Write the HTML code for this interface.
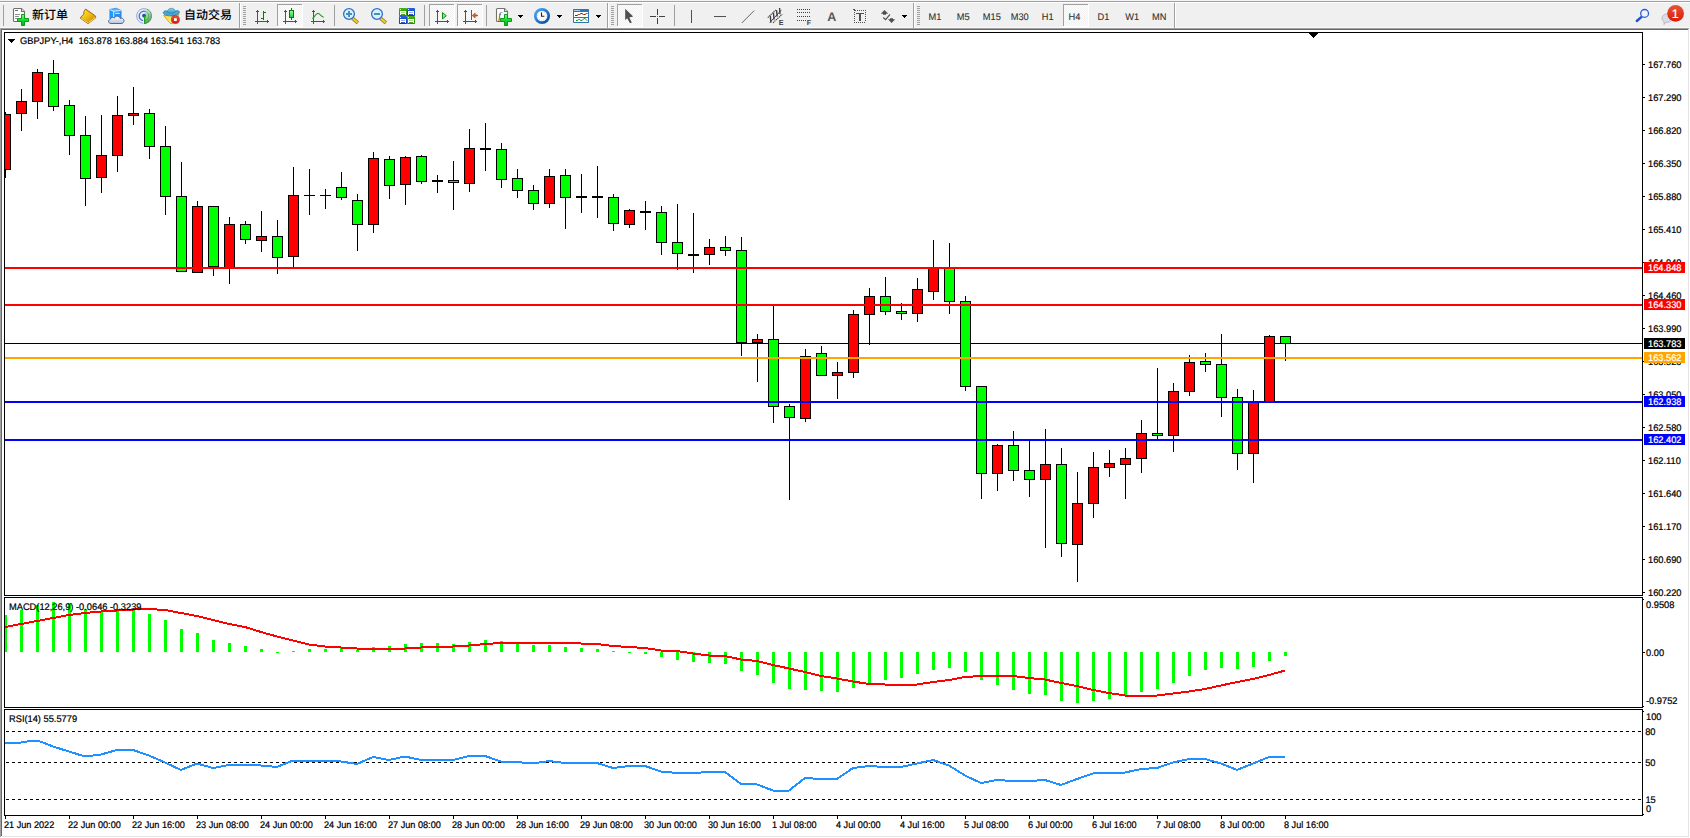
<!DOCTYPE html>
<html><head><meta charset="utf-8"><title>GBPJPY H4</title>
<style>html,body{margin:0;padding:0;background:#fff}body{width:1690px;height:838px;overflow:hidden;position:relative}text{white-space:pre;text-rendering:geometricPrecision}</style>
</head><body>
<svg width="1690" height="838" viewBox="0 0 1690 838" style="position:absolute;left:0;top:0" font-family="'Liberation Sans','Noto Sans CJK SC',sans-serif">
<rect x="0" y="0" width="1690" height="838" fill="#fff"/>
<g shape-rendering="crispEdges">
<rect x="0" y="0" width="1690" height="28" fill="#f0f0f0"/>
<rect x="0" y="0" width="1690" height="1" fill="#f4f4f4"/>
<rect x="0" y="1" width="1690" height="1" fill="#a0a0a0"/>
<rect x="0" y="2" width="1690" height="1" fill="#ffffff"/>
<rect x="0" y="27" width="1690" height="1" fill="#fafafa"/>
<rect x="0" y="28" width="1689" height="1" fill="#a0a0a0"/>
<rect x="1" y="29" width="1687" height="1" fill="#696969"/>
<rect x="0" y="28" width="1" height="809" fill="#a0a0a0"/>
<rect x="1" y="29" width="1" height="807" fill="#696969"/>
<rect x="1688" y="29" width="1" height="808" fill="#e3e3e3"/>
<rect x="2" y="836" width="1687" height="1" fill="#e3e3e3"/>
<rect x="4" y="32" width="1639" height="1" fill="#000"/>
<rect x="4" y="595" width="1639" height="1" fill="#000"/>
<rect x="4" y="32" width="1" height="564" fill="#000"/>
<rect x="1642" y="32" width="1" height="564" fill="#000"/>
<rect x="4" y="597" width="1639" height="1" fill="#000"/>
<rect x="4" y="707" width="1639" height="1" fill="#000"/>
<rect x="4" y="597" width="1" height="111" fill="#000"/>
<rect x="1642" y="597" width="1" height="111" fill="#000"/>
<rect x="4" y="709" width="1639" height="1" fill="#000"/>
<rect x="4" y="815" width="1639" height="1" fill="#000"/>
<rect x="4" y="709" width="1" height="107" fill="#000"/>
<rect x="1642" y="709" width="1" height="107" fill="#000"/>
</g>
<defs><clipPath id="c1"><rect x="5" y="33" width="1637" height="562"/></clipPath><clipPath id="c2"><rect x="5" y="598" width="1637" height="109"/></clipPath><clipPath id="c3"><rect x="5" y="710" width="1637" height="105"/></clipPath></defs>
<g shape-rendering="crispEdges" clip-path="url(#c1)">
<rect x="5" y="343" width="1637" height="1" fill="#000"/>
<rect x="5" y="112" width="1" height="66" fill="#000"/>
<rect x="0" y="114" width="11" height="56" fill="#000"/>
<rect x="1" y="115" width="9" height="54" fill="#f00"/>
<rect x="21" y="89" width="1" height="42" fill="#000"/>
<rect x="16" y="101" width="11" height="13" fill="#000"/>
<rect x="17" y="102" width="9" height="11" fill="#f00"/>
<rect x="37" y="69" width="1" height="50" fill="#000"/>
<rect x="32" y="72" width="11" height="30" fill="#000"/>
<rect x="33" y="73" width="9" height="28" fill="#f00"/>
<rect x="53" y="60" width="1" height="51" fill="#000"/>
<rect x="48" y="73" width="11" height="34" fill="#000"/>
<rect x="49" y="74" width="9" height="32" fill="#0f0"/>
<rect x="69" y="100" width="1" height="55" fill="#000"/>
<rect x="64" y="105" width="11" height="31" fill="#000"/>
<rect x="65" y="106" width="9" height="29" fill="#0f0"/>
<rect x="85" y="116" width="1" height="90" fill="#000"/>
<rect x="80" y="135" width="11" height="44" fill="#000"/>
<rect x="81" y="136" width="9" height="42" fill="#0f0"/>
<rect x="101" y="115" width="1" height="78" fill="#000"/>
<rect x="96" y="155" width="11" height="23" fill="#000"/>
<rect x="97" y="156" width="9" height="21" fill="#f00"/>
<rect x="117" y="96" width="1" height="76" fill="#000"/>
<rect x="112" y="115" width="11" height="41" fill="#000"/>
<rect x="113" y="116" width="9" height="39" fill="#f00"/>
<rect x="133" y="87" width="1" height="38" fill="#000"/>
<rect x="128" y="113" width="11" height="3" fill="#000"/>
<rect x="129" y="114" width="9" height="1" fill="#f00"/>
<rect x="149" y="109" width="1" height="50" fill="#000"/>
<rect x="144" y="113" width="11" height="34" fill="#000"/>
<rect x="145" y="114" width="9" height="32" fill="#0f0"/>
<rect x="165" y="126" width="1" height="89" fill="#000"/>
<rect x="160" y="146" width="11" height="51" fill="#000"/>
<rect x="161" y="147" width="9" height="49" fill="#0f0"/>
<rect x="181" y="162" width="1" height="110" fill="#000"/>
<rect x="176" y="196" width="11" height="76" fill="#000"/>
<rect x="177" y="197" width="9" height="74" fill="#0f0"/>
<rect x="197" y="201" width="1" height="72" fill="#000"/>
<rect x="192" y="206" width="11" height="67" fill="#000"/>
<rect x="193" y="207" width="9" height="65" fill="#f00"/>
<rect x="213" y="206" width="1" height="70" fill="#000"/>
<rect x="208" y="206" width="11" height="61" fill="#000"/>
<rect x="209" y="207" width="9" height="59" fill="#0f0"/>
<rect x="229" y="217" width="1" height="67" fill="#000"/>
<rect x="224" y="224" width="11" height="45" fill="#000"/>
<rect x="225" y="225" width="9" height="43" fill="#f00"/>
<rect x="245" y="221" width="1" height="23" fill="#000"/>
<rect x="240" y="224" width="11" height="16" fill="#000"/>
<rect x="241" y="225" width="9" height="14" fill="#0f0"/>
<rect x="261" y="211" width="1" height="41" fill="#000"/>
<rect x="256" y="236" width="11" height="5" fill="#000"/>
<rect x="257" y="237" width="9" height="3" fill="#f00"/>
<rect x="277" y="220" width="1" height="54" fill="#000"/>
<rect x="272" y="236" width="11" height="22" fill="#000"/>
<rect x="273" y="237" width="9" height="20" fill="#0f0"/>
<rect x="293" y="167" width="1" height="101" fill="#000"/>
<rect x="288" y="195" width="11" height="62" fill="#000"/>
<rect x="289" y="196" width="9" height="60" fill="#f00"/>
<rect x="309" y="169" width="1" height="46" fill="#000"/>
<rect x="304" y="195" width="11" height="1" fill="#000"/>
<rect x="325" y="189" width="1" height="20" fill="#000"/>
<rect x="320" y="195" width="11" height="1" fill="#000"/>
<rect x="341" y="172" width="1" height="28" fill="#000"/>
<rect x="336" y="187" width="11" height="11" fill="#000"/>
<rect x="337" y="188" width="9" height="9" fill="#0f0"/>
<rect x="357" y="194" width="1" height="57" fill="#000"/>
<rect x="352" y="200" width="11" height="25" fill="#000"/>
<rect x="353" y="201" width="9" height="23" fill="#0f0"/>
<rect x="373" y="152" width="1" height="81" fill="#000"/>
<rect x="368" y="158" width="11" height="67" fill="#000"/>
<rect x="369" y="159" width="9" height="65" fill="#f00"/>
<rect x="389" y="156" width="1" height="43" fill="#000"/>
<rect x="384" y="159" width="11" height="27" fill="#000"/>
<rect x="385" y="160" width="9" height="25" fill="#0f0"/>
<rect x="405" y="156" width="1" height="49" fill="#000"/>
<rect x="400" y="157" width="11" height="28" fill="#000"/>
<rect x="401" y="158" width="9" height="26" fill="#f00"/>
<rect x="421" y="155" width="1" height="29" fill="#000"/>
<rect x="416" y="156" width="11" height="26" fill="#000"/>
<rect x="417" y="157" width="9" height="24" fill="#0f0"/>
<rect x="437" y="175" width="1" height="18" fill="#000"/>
<rect x="432" y="180" width="11" height="2" fill="#000"/>
<rect x="453" y="161" width="1" height="49" fill="#000"/>
<rect x="448" y="180" width="11" height="3" fill="#000"/>
<rect x="449" y="181" width="9" height="1" fill="#0f0"/>
<rect x="469" y="129" width="1" height="63" fill="#000"/>
<rect x="464" y="148" width="11" height="36" fill="#000"/>
<rect x="465" y="149" width="9" height="34" fill="#f00"/>
<rect x="485" y="123" width="1" height="48" fill="#000"/>
<rect x="480" y="148" width="11" height="2" fill="#000"/>
<rect x="501" y="143" width="1" height="45" fill="#000"/>
<rect x="496" y="149" width="11" height="31" fill="#000"/>
<rect x="497" y="150" width="9" height="29" fill="#0f0"/>
<rect x="517" y="169" width="1" height="29" fill="#000"/>
<rect x="512" y="178" width="11" height="13" fill="#000"/>
<rect x="513" y="179" width="9" height="11" fill="#0f0"/>
<rect x="533" y="185" width="1" height="25" fill="#000"/>
<rect x="528" y="190" width="11" height="14" fill="#000"/>
<rect x="529" y="191" width="9" height="12" fill="#0f0"/>
<rect x="549" y="169" width="1" height="39" fill="#000"/>
<rect x="544" y="176" width="11" height="28" fill="#000"/>
<rect x="545" y="177" width="9" height="26" fill="#f00"/>
<rect x="565" y="169" width="1" height="60" fill="#000"/>
<rect x="560" y="175" width="11" height="23" fill="#000"/>
<rect x="561" y="176" width="9" height="21" fill="#0f0"/>
<rect x="581" y="174" width="1" height="39" fill="#000"/>
<rect x="576" y="196" width="11" height="2" fill="#000"/>
<rect x="597" y="166" width="1" height="52" fill="#000"/>
<rect x="592" y="196" width="11" height="2" fill="#000"/>
<rect x="613" y="194" width="1" height="37" fill="#000"/>
<rect x="608" y="197" width="11" height="27" fill="#000"/>
<rect x="609" y="198" width="9" height="25" fill="#0f0"/>
<rect x="629" y="209" width="1" height="19" fill="#000"/>
<rect x="624" y="210" width="11" height="15" fill="#000"/>
<rect x="625" y="211" width="9" height="13" fill="#f00"/>
<rect x="645" y="201" width="1" height="29" fill="#000"/>
<rect x="640" y="211" width="11" height="2" fill="#000"/>
<rect x="661" y="206" width="1" height="49" fill="#000"/>
<rect x="656" y="212" width="11" height="31" fill="#000"/>
<rect x="657" y="213" width="9" height="29" fill="#0f0"/>
<rect x="677" y="204" width="1" height="66" fill="#000"/>
<rect x="672" y="242" width="11" height="12" fill="#000"/>
<rect x="673" y="243" width="9" height="10" fill="#0f0"/>
<rect x="693" y="213" width="1" height="60" fill="#000"/>
<rect x="688" y="254" width="11" height="2" fill="#000"/>
<rect x="709" y="239" width="1" height="26" fill="#000"/>
<rect x="704" y="247" width="11" height="8" fill="#000"/>
<rect x="705" y="248" width="9" height="6" fill="#f00"/>
<rect x="725" y="236" width="1" height="20" fill="#000"/>
<rect x="720" y="247" width="11" height="4" fill="#000"/>
<rect x="721" y="248" width="9" height="2" fill="#0f0"/>
<rect x="741" y="237" width="1" height="119" fill="#000"/>
<rect x="736" y="250" width="11" height="93" fill="#000"/>
<rect x="737" y="251" width="9" height="91" fill="#0f0"/>
<rect x="757" y="334" width="1" height="48" fill="#000"/>
<rect x="752" y="339" width="11" height="4" fill="#000"/>
<rect x="753" y="340" width="9" height="2" fill="#f00"/>
<rect x="773" y="306" width="1" height="117" fill="#000"/>
<rect x="768" y="339" width="11" height="68" fill="#000"/>
<rect x="769" y="340" width="9" height="66" fill="#0f0"/>
<rect x="789" y="404" width="1" height="96" fill="#000"/>
<rect x="784" y="406" width="11" height="12" fill="#000"/>
<rect x="785" y="407" width="9" height="10" fill="#0f0"/>
<rect x="805" y="349" width="1" height="73" fill="#000"/>
<rect x="800" y="356" width="11" height="63" fill="#000"/>
<rect x="801" y="357" width="9" height="61" fill="#f00"/>
<rect x="821" y="346" width="1" height="30" fill="#000"/>
<rect x="816" y="353" width="11" height="23" fill="#000"/>
<rect x="817" y="354" width="9" height="21" fill="#0f0"/>
<rect x="837" y="362" width="1" height="37" fill="#000"/>
<rect x="832" y="372" width="11" height="4" fill="#000"/>
<rect x="833" y="373" width="9" height="2" fill="#f00"/>
<rect x="853" y="310" width="1" height="68" fill="#000"/>
<rect x="848" y="314" width="11" height="59" fill="#000"/>
<rect x="849" y="315" width="9" height="57" fill="#f00"/>
<rect x="869" y="288" width="1" height="57" fill="#000"/>
<rect x="864" y="296" width="11" height="19" fill="#000"/>
<rect x="865" y="297" width="9" height="17" fill="#f00"/>
<rect x="885" y="277" width="1" height="38" fill="#000"/>
<rect x="880" y="296" width="11" height="16" fill="#000"/>
<rect x="881" y="297" width="9" height="14" fill="#0f0"/>
<rect x="901" y="303" width="1" height="17" fill="#000"/>
<rect x="896" y="311" width="11" height="3" fill="#000"/>
<rect x="897" y="312" width="9" height="1" fill="#0f0"/>
<rect x="917" y="278" width="1" height="44" fill="#000"/>
<rect x="912" y="289" width="11" height="25" fill="#000"/>
<rect x="913" y="290" width="9" height="23" fill="#f00"/>
<rect x="933" y="240" width="1" height="60" fill="#000"/>
<rect x="928" y="267" width="11" height="25" fill="#000"/>
<rect x="929" y="268" width="9" height="23" fill="#f00"/>
<rect x="949" y="243" width="1" height="71" fill="#000"/>
<rect x="944" y="268" width="11" height="34" fill="#000"/>
<rect x="945" y="269" width="9" height="32" fill="#0f0"/>
<rect x="965" y="296" width="1" height="95" fill="#000"/>
<rect x="960" y="301" width="11" height="86" fill="#000"/>
<rect x="961" y="302" width="9" height="84" fill="#0f0"/>
<rect x="981" y="386" width="1" height="113" fill="#000"/>
<rect x="976" y="386" width="11" height="88" fill="#000"/>
<rect x="977" y="387" width="9" height="86" fill="#0f0"/>
<rect x="997" y="444" width="1" height="47" fill="#000"/>
<rect x="992" y="445" width="11" height="29" fill="#000"/>
<rect x="993" y="446" width="9" height="27" fill="#f00"/>
<rect x="1013" y="431" width="1" height="50" fill="#000"/>
<rect x="1008" y="445" width="11" height="26" fill="#000"/>
<rect x="1009" y="446" width="9" height="24" fill="#0f0"/>
<rect x="1029" y="440" width="1" height="57" fill="#000"/>
<rect x="1024" y="470" width="11" height="10" fill="#000"/>
<rect x="1025" y="471" width="9" height="8" fill="#0f0"/>
<rect x="1045" y="429" width="1" height="119" fill="#000"/>
<rect x="1040" y="464" width="11" height="16" fill="#000"/>
<rect x="1041" y="465" width="9" height="14" fill="#f00"/>
<rect x="1061" y="448" width="1" height="109" fill="#000"/>
<rect x="1056" y="464" width="11" height="80" fill="#000"/>
<rect x="1057" y="465" width="9" height="78" fill="#0f0"/>
<rect x="1077" y="472" width="1" height="110" fill="#000"/>
<rect x="1072" y="503" width="11" height="42" fill="#000"/>
<rect x="1073" y="504" width="9" height="40" fill="#f00"/>
<rect x="1093" y="452" width="1" height="66" fill="#000"/>
<rect x="1088" y="467" width="11" height="37" fill="#000"/>
<rect x="1089" y="468" width="9" height="35" fill="#f00"/>
<rect x="1109" y="450" width="1" height="27" fill="#000"/>
<rect x="1104" y="463" width="11" height="5" fill="#000"/>
<rect x="1105" y="464" width="9" height="3" fill="#f00"/>
<rect x="1125" y="448" width="1" height="51" fill="#000"/>
<rect x="1120" y="458" width="11" height="7" fill="#000"/>
<rect x="1121" y="459" width="9" height="5" fill="#f00"/>
<rect x="1141" y="420" width="1" height="53" fill="#000"/>
<rect x="1136" y="433" width="11" height="26" fill="#000"/>
<rect x="1137" y="434" width="9" height="24" fill="#f00"/>
<rect x="1157" y="368" width="1" height="71" fill="#000"/>
<rect x="1152" y="433" width="11" height="3" fill="#000"/>
<rect x="1153" y="434" width="9" height="1" fill="#0f0"/>
<rect x="1173" y="383" width="1" height="69" fill="#000"/>
<rect x="1168" y="391" width="11" height="45" fill="#000"/>
<rect x="1169" y="392" width="9" height="43" fill="#f00"/>
<rect x="1189" y="355" width="1" height="41" fill="#000"/>
<rect x="1184" y="362" width="11" height="30" fill="#000"/>
<rect x="1185" y="363" width="9" height="28" fill="#f00"/>
<rect x="1205" y="353" width="1" height="19" fill="#000"/>
<rect x="1200" y="361" width="11" height="4" fill="#000"/>
<rect x="1201" y="362" width="9" height="2" fill="#0f0"/>
<rect x="1221" y="334" width="1" height="83" fill="#000"/>
<rect x="1216" y="364" width="11" height="34" fill="#000"/>
<rect x="1217" y="365" width="9" height="32" fill="#0f0"/>
<rect x="1237" y="389" width="1" height="81" fill="#000"/>
<rect x="1232" y="397" width="11" height="57" fill="#000"/>
<rect x="1233" y="398" width="9" height="55" fill="#0f0"/>
<rect x="1253" y="390" width="1" height="93" fill="#000"/>
<rect x="1248" y="401" width="11" height="53" fill="#000"/>
<rect x="1249" y="402" width="9" height="51" fill="#f00"/>
<rect x="1269" y="335" width="1" height="67" fill="#000"/>
<rect x="1264" y="336" width="11" height="66" fill="#000"/>
<rect x="1265" y="337" width="9" height="64" fill="#f00"/>
<rect x="1285" y="336" width="1" height="25" fill="#000"/>
<rect x="1280" y="336" width="11" height="8" fill="#000"/>
<rect x="1281" y="337" width="9" height="6" fill="#0f0"/>
<rect x="5" y="267" width="1637" height="2" fill="#f00"/>
<rect x="5" y="304" width="1637" height="2" fill="#f00"/>
<rect x="5" y="357" width="1637" height="2" fill="#ffa500"/>
<rect x="5" y="401" width="1637" height="2" fill="#00f"/>
<rect x="5" y="439" width="1637" height="2" fill="#00f"/>
<rect x="1309" y="33" width="9" height="1" fill="#000"/>
<rect x="1310" y="34" width="7" height="1" fill="#000"/>
<rect x="1311" y="35" width="5" height="1" fill="#000"/>
<rect x="1312" y="36" width="3" height="1" fill="#000"/>
<rect x="1313" y="37" width="1" height="1" fill="#000"/>
</g>
<g shape-rendering="crispEdges">
<rect x="1643" y="64" width="2" height="1" fill="#000"/>
<rect x="1643" y="97" width="2" height="1" fill="#000"/>
<rect x="1643" y="130" width="2" height="1" fill="#000"/>
<rect x="1643" y="163" width="2" height="1" fill="#000"/>
<rect x="1643" y="196" width="2" height="1" fill="#000"/>
<rect x="1643" y="229" width="2" height="1" fill="#000"/>
<rect x="1643" y="262" width="2" height="1" fill="#000"/>
<rect x="1643" y="295" width="2" height="1" fill="#000"/>
<rect x="1643" y="328" width="2" height="1" fill="#000"/>
<rect x="1643" y="361" width="2" height="1" fill="#000"/>
<rect x="1643" y="394" width="2" height="1" fill="#000"/>
<rect x="1643" y="427" width="2" height="1" fill="#000"/>
<rect x="1643" y="460" width="2" height="1" fill="#000"/>
<rect x="1643" y="493" width="2" height="1" fill="#000"/>
<rect x="1643" y="526" width="2" height="1" fill="#000"/>
<rect x="1643" y="559" width="2" height="1" fill="#000"/>
<rect x="1643" y="592" width="2" height="1" fill="#000"/>
</g>
<text transform="translate(1648,68) scale(0.9667,1)" font-size="9.6" fill="#000" stroke="#000" stroke-width="0.22">167.760</text>
<text transform="translate(1648,101) scale(0.9667,1)" font-size="9.6" fill="#000" stroke="#000" stroke-width="0.22">167.290</text>
<text transform="translate(1648,134) scale(0.9667,1)" font-size="9.6" fill="#000" stroke="#000" stroke-width="0.22">166.820</text>
<text transform="translate(1648,167) scale(0.9667,1)" font-size="9.6" fill="#000" stroke="#000" stroke-width="0.22">166.350</text>
<text transform="translate(1648,200) scale(0.9667,1)" font-size="9.6" fill="#000" stroke="#000" stroke-width="0.22">165.880</text>
<text transform="translate(1648,233) scale(0.9667,1)" font-size="9.6" fill="#000" stroke="#000" stroke-width="0.22">165.410</text>
<text transform="translate(1648,266) scale(0.9667,1)" font-size="9.6" fill="#000" stroke="#000" stroke-width="0.22">164.940</text>
<text transform="translate(1648,299) scale(0.9667,1)" font-size="9.6" fill="#000" stroke="#000" stroke-width="0.22">164.460</text>
<text transform="translate(1648,332) scale(0.9667,1)" font-size="9.6" fill="#000" stroke="#000" stroke-width="0.22">163.990</text>
<text transform="translate(1648,365) scale(0.9667,1)" font-size="9.6" fill="#000" stroke="#000" stroke-width="0.22">163.520</text>
<text transform="translate(1648,398) scale(0.9667,1)" font-size="9.6" fill="#000" stroke="#000" stroke-width="0.22">163.050</text>
<text transform="translate(1648,431) scale(0.9667,1)" font-size="9.6" fill="#000" stroke="#000" stroke-width="0.22">162.580</text>
<text transform="translate(1648,464) scale(0.9667,1)" font-size="9.6" fill="#000" stroke="#000" stroke-width="0.22">162.110</text>
<text transform="translate(1648,497) scale(0.9667,1)" font-size="9.6" fill="#000" stroke="#000" stroke-width="0.22">161.640</text>
<text transform="translate(1648,530) scale(0.9667,1)" font-size="9.6" fill="#000" stroke="#000" stroke-width="0.22">161.170</text>
<text transform="translate(1648,563) scale(0.9667,1)" font-size="9.6" fill="#000" stroke="#000" stroke-width="0.22">160.690</text>
<text transform="translate(1648,596) scale(0.9667,1)" font-size="9.6" fill="#000" stroke="#000" stroke-width="0.22">160.220</text>
<rect x="1644" y="262" width="41" height="11" fill="#f00" shape-rendering="crispEdges"/>
<text transform="translate(1648,271) scale(0.9667,1)" font-size="9.6" fill="#fff" stroke="#fff" stroke-width="0.22">164.848</text>
<rect x="1644" y="299" width="41" height="11" fill="#f00" shape-rendering="crispEdges"/>
<text transform="translate(1648,308) scale(0.9667,1)" font-size="9.6" fill="#fff" stroke="#fff" stroke-width="0.22">164.330</text>
<rect x="1644" y="338" width="41" height="11" fill="#000" shape-rendering="crispEdges"/>
<text transform="translate(1648,347) scale(0.9667,1)" font-size="9.6" fill="#fff" stroke="#fff" stroke-width="0.22">163.783</text>
<rect x="1644" y="352" width="41" height="11" fill="#ffa500" shape-rendering="crispEdges"/>
<text transform="translate(1648,361) scale(0.9667,1)" font-size="9.6" fill="#fff" stroke="#fff" stroke-width="0.22">163.562</text>
<rect x="1644" y="396" width="41" height="11" fill="#00f" shape-rendering="crispEdges"/>
<text transform="translate(1648,405) scale(0.9667,1)" font-size="9.6" fill="#fff" stroke="#fff" stroke-width="0.22">162.938</text>
<rect x="1644" y="434" width="41" height="11" fill="#00f" shape-rendering="crispEdges"/>
<text transform="translate(1648,443) scale(0.9667,1)" font-size="9.6" fill="#fff" stroke="#fff" stroke-width="0.22">162.402</text>
<g shape-rendering="crispEdges">
<rect x="8" y="39" width="7" height="1" fill="#000"/>
<rect x="9" y="40" width="5" height="1" fill="#000"/>
<rect x="10" y="41" width="3" height="1" fill="#000"/>
<rect x="11" y="42" width="1" height="1" fill="#000"/>
</g>
<text transform="translate(20,44) scale(0.9667,1)" font-size="9.6" fill="#000" stroke="#000" stroke-width="0.22" xml:space="preserve">GBPJPY-,H4&#160; 163.878 163.884 163.541 163.783</text>
<g shape-rendering="crispEdges" clip-path="url(#c2)">
<rect x="4" y="615" width="3" height="37" fill="#0f0"/>
<rect x="20" y="610" width="3" height="42" fill="#0f0"/>
<rect x="36" y="605" width="3" height="47" fill="#0f0"/>
<rect x="52" y="602" width="3" height="50" fill="#0f0"/>
<rect x="68" y="603" width="3" height="49" fill="#0f0"/>
<rect x="84" y="609" width="3" height="43" fill="#0f0"/>
<rect x="100" y="611" width="3" height="41" fill="#0f0"/>
<rect x="116" y="610" width="3" height="42" fill="#0f0"/>
<rect x="132" y="610" width="3" height="42" fill="#0f0"/>
<rect x="148" y="614" width="3" height="38" fill="#0f0"/>
<rect x="164" y="620" width="3" height="32" fill="#0f0"/>
<rect x="180" y="629" width="3" height="23" fill="#0f0"/>
<rect x="196" y="633" width="3" height="19" fill="#0f0"/>
<rect x="212" y="640" width="3" height="12" fill="#0f0"/>
<rect x="228" y="643" width="3" height="9" fill="#0f0"/>
<rect x="244" y="646" width="3" height="6" fill="#0f0"/>
<rect x="260" y="649" width="3" height="3" fill="#0f0"/>
<rect x="276" y="652" width="3" height="1" fill="#0f0"/>
<rect x="292" y="651" width="3" height="1" fill="#0f0"/>
<rect x="308" y="649" width="3" height="3" fill="#0f0"/>
<rect x="324" y="649" width="3" height="3" fill="#0f0"/>
<rect x="340" y="648" width="3" height="4" fill="#0f0"/>
<rect x="356" y="650" width="3" height="2" fill="#0f0"/>
<rect x="372" y="647" width="3" height="5" fill="#0f0"/>
<rect x="388" y="646" width="3" height="6" fill="#0f0"/>
<rect x="404" y="644" width="3" height="8" fill="#0f0"/>
<rect x="420" y="643" width="3" height="9" fill="#0f0"/>
<rect x="436" y="643" width="3" height="9" fill="#0f0"/>
<rect x="452" y="644" width="3" height="8" fill="#0f0"/>
<rect x="468" y="642" width="3" height="10" fill="#0f0"/>
<rect x="484" y="640" width="3" height="12" fill="#0f0"/>
<rect x="500" y="641" width="3" height="11" fill="#0f0"/>
<rect x="516" y="643" width="3" height="9" fill="#0f0"/>
<rect x="532" y="645" width="3" height="7" fill="#0f0"/>
<rect x="548" y="645" width="3" height="7" fill="#0f0"/>
<rect x="564" y="647" width="3" height="5" fill="#0f0"/>
<rect x="580" y="648" width="3" height="4" fill="#0f0"/>
<rect x="596" y="649" width="3" height="3" fill="#0f0"/>
<rect x="612" y="651" width="3" height="1" fill="#0f0"/>
<rect x="628" y="652" width="3" height="1" fill="#0f0"/>
<rect x="644" y="652" width="3" height="2" fill="#0f0"/>
<rect x="660" y="652" width="3" height="5" fill="#0f0"/>
<rect x="676" y="652" width="3" height="8" fill="#0f0"/>
<rect x="692" y="652" width="3" height="10" fill="#0f0"/>
<rect x="708" y="652" width="3" height="11" fill="#0f0"/>
<rect x="724" y="652" width="3" height="12" fill="#0f0"/>
<rect x="740" y="652" width="3" height="19" fill="#0f0"/>
<rect x="756" y="652" width="3" height="23" fill="#0f0"/>
<rect x="772" y="652" width="3" height="31" fill="#0f0"/>
<rect x="788" y="652" width="3" height="37" fill="#0f0"/>
<rect x="804" y="652" width="3" height="38" fill="#0f0"/>
<rect x="820" y="652" width="3" height="39" fill="#0f0"/>
<rect x="836" y="652" width="3" height="40" fill="#0f0"/>
<rect x="852" y="652" width="3" height="36" fill="#0f0"/>
<rect x="868" y="652" width="3" height="32" fill="#0f0"/>
<rect x="884" y="652" width="3" height="28" fill="#0f0"/>
<rect x="900" y="652" width="3" height="26" fill="#0f0"/>
<rect x="916" y="652" width="3" height="22" fill="#0f0"/>
<rect x="932" y="652" width="3" height="18" fill="#0f0"/>
<rect x="948" y="652" width="3" height="16" fill="#0f0"/>
<rect x="964" y="652" width="3" height="20" fill="#0f0"/>
<rect x="980" y="652" width="3" height="28" fill="#0f0"/>
<rect x="996" y="652" width="3" height="33" fill="#0f0"/>
<rect x="1012" y="652" width="3" height="38" fill="#0f0"/>
<rect x="1028" y="652" width="3" height="42" fill="#0f0"/>
<rect x="1044" y="652" width="3" height="43" fill="#0f0"/>
<rect x="1060" y="652" width="3" height="49" fill="#0f0"/>
<rect x="1076" y="652" width="3" height="51" fill="#0f0"/>
<rect x="1092" y="652" width="3" height="49" fill="#0f0"/>
<rect x="1108" y="652" width="3" height="47" fill="#0f0"/>
<rect x="1124" y="652" width="3" height="43" fill="#0f0"/>
<rect x="1140" y="652" width="3" height="40" fill="#0f0"/>
<rect x="1156" y="652" width="3" height="37" fill="#0f0"/>
<rect x="1172" y="652" width="3" height="31" fill="#0f0"/>
<rect x="1188" y="652" width="3" height="24" fill="#0f0"/>
<rect x="1204" y="652" width="3" height="18" fill="#0f0"/>
<rect x="1220" y="652" width="3" height="16" fill="#0f0"/>
<rect x="1236" y="652" width="3" height="17" fill="#0f0"/>
<rect x="1252" y="652" width="3" height="15" fill="#0f0"/>
<rect x="1268" y="652" width="3" height="9" fill="#0f0"/>
<rect x="1284" y="652" width="3" height="4" fill="#0f0"/>
</g>
<polyline points="5,627 21,624 37,621 53,618 69,615 85,613 101,611.5 117,610.5 133,609.5 149,609 165,610 181,613 197,616 213,620 229,624 245,627 261,632 277,636.5 293,640.5 309,644.5 325,646.5 341,647.5 357,648.5 373,648.5 389,648.5 405,648.5 421,647.5 437,647 453,646.5 469,645.5 485,644 501,643 517,643 533,643 549,643 565,643 581,643.5 597,644 613,646 629,647 645,648 661,650.5 677,651 693,653.5 709,655.5 725,656 741,659.5 757,661 773,665 789,668.5 805,672 821,676 837,678.5 853,681.5 869,684 885,684.5 901,684.5 917,684.5 933,682 949,680 965,677 981,676 997,676 1013,676 1029,678 1045,679.5 1061,683 1077,686 1093,690 1109,693 1125,695.5 1141,696 1157,695.5 1173,693.5 1189,691.5 1205,689 1221,685.5 1237,682 1253,679 1269,675 1285,670.5" fill="none" stroke="#f00" stroke-width="2" clip-path="url(#c2)" stroke-linejoin="round" shape-rendering="crispEdges"/>
<text transform="translate(9,610) scale(0.9667,1)" font-size="9.6" fill="#000" stroke="#000" stroke-width="0.22">MACD(12,26,9) -0.0646 -0.3239</text>
<g shape-rendering="crispEdges">
<rect x="1643" y="599" width="1" height="1" fill="#000"/>
<rect x="1643" y="652" width="2" height="1" fill="#000"/>
<rect x="1643" y="706" width="1" height="1" fill="#000"/>
<rect x="1643" y="711" width="1" height="1" fill="#000"/>
<rect x="1643" y="814" width="1" height="1" fill="#000"/>
</g>
<text transform="translate(1646,608) scale(0.9667,1)" font-size="9.6" fill="#000" stroke="#000" stroke-width="0.22">0.9508</text>
<text transform="translate(1646,656) scale(0.9667,1)" font-size="9.6" fill="#000" stroke="#000" stroke-width="0.22">0.00</text>
<text transform="translate(1646,704) scale(0.9667,1)" font-size="9.6" fill="#000" stroke="#000" stroke-width="0.22">-0.9752</text>
<g shape-rendering="crispEdges">
<line x1="6" y1="731.5" x2="1642" y2="731.5" stroke="#000" stroke-width="1" stroke-dasharray="3 3"/>
<line x1="6" y1="762.5" x2="1642" y2="762.5" stroke="#000" stroke-width="1" stroke-dasharray="3 3"/>
<line x1="6" y1="799.5" x2="1642" y2="799.5" stroke="#000" stroke-width="1" stroke-dasharray="3 3"/>
</g>
<polyline points="5,743 21,742.5 30,741 39,741 53,746.5 69,751.5 85,756.5 101,754.5 117,750 133,750 149,755.5 165,762.5 181,770 197,763.5 213,768 229,765 245,765 261,765.5 277,767 293,760.5 309,760.5 325,760.5 341,761.5 357,764 373,757 389,760 405,756.5 421,760 437,760 453,760 469,756 485,756 501,761.5 517,762 533,763.5 549,761 565,763 581,763 597,763 613,768 629,766 645,766 661,771.5 677,773 693,773 709,772 725,772 741,784 757,784.5 773,790.5 789,790.5 805,778 821,779 837,779 853,768 869,766 885,767 901,767 917,763.5 933,760 949,765.5 965,775.5 981,783 997,780 1013,781 1029,781 1045,780 1061,785 1077,779 1093,773.5 1109,773 1125,772.5 1141,769 1157,768 1173,762.5 1189,759 1205,759 1221,763.5 1237,770 1253,763.5 1269,757 1285,757" fill="none" stroke="#1e90ff" stroke-width="2" clip-path="url(#c3)" stroke-linejoin="round" shape-rendering="crispEdges"/>
<text transform="translate(9,722) scale(0.9667,1)" font-size="9.6" fill="#000" stroke="#000" stroke-width="0.22">RSI(14) 55.5779</text>
<text transform="translate(1646,720) scale(0.9667,1)" font-size="9.6" fill="#000" stroke="#000" stroke-width="0.22">100</text>
<text transform="translate(1645.2,735) scale(0.9667,1)" font-size="9.6" fill="#000" stroke="#000" stroke-width="0.22">80</text>
<text transform="translate(1645.2,766) scale(0.9667,1)" font-size="9.6" fill="#000" stroke="#000" stroke-width="0.22">50</text>
<text transform="translate(1645.4,803) scale(0.9667,1)" font-size="9.6" fill="#000" stroke="#000" stroke-width="0.22">15</text>
<text transform="translate(1646,812) scale(0.9667,1)" font-size="9.6" fill="#000" stroke="#000" stroke-width="0.22">0</text>
<g shape-rendering="crispEdges">
<rect x="5" y="816" width="1" height="3" fill="#000"/>
<rect x="69" y="816" width="1" height="3" fill="#000"/>
<rect x="133" y="816" width="1" height="3" fill="#000"/>
<rect x="197" y="816" width="1" height="3" fill="#000"/>
<rect x="261" y="816" width="1" height="3" fill="#000"/>
<rect x="325" y="816" width="1" height="3" fill="#000"/>
<rect x="389" y="816" width="1" height="3" fill="#000"/>
<rect x="453" y="816" width="1" height="3" fill="#000"/>
<rect x="517" y="816" width="1" height="3" fill="#000"/>
<rect x="581" y="816" width="1" height="3" fill="#000"/>
<rect x="645" y="816" width="1" height="3" fill="#000"/>
<rect x="709" y="816" width="1" height="3" fill="#000"/>
<rect x="773" y="816" width="1" height="3" fill="#000"/>
<rect x="837" y="816" width="1" height="3" fill="#000"/>
<rect x="901" y="816" width="1" height="3" fill="#000"/>
<rect x="965" y="816" width="1" height="3" fill="#000"/>
<rect x="1029" y="816" width="1" height="3" fill="#000"/>
<rect x="1093" y="816" width="1" height="3" fill="#000"/>
<rect x="1157" y="816" width="1" height="3" fill="#000"/>
<rect x="1221" y="816" width="1" height="3" fill="#000"/>
<rect x="1285" y="816" width="1" height="3" fill="#000"/>
</g>
<text transform="translate(4,828) scale(0.952,1)" font-size="9.6" fill="#000" stroke="#000" stroke-width="0.22">21 Jun 2022</text>
<text transform="translate(68,828) scale(0.952,1)" font-size="9.6" fill="#000" stroke="#000" stroke-width="0.22">22 Jun 00:00</text>
<text transform="translate(132,828) scale(0.952,1)" font-size="9.6" fill="#000" stroke="#000" stroke-width="0.22">22 Jun 16:00</text>
<text transform="translate(196,828) scale(0.952,1)" font-size="9.6" fill="#000" stroke="#000" stroke-width="0.22">23 Jun 08:00</text>
<text transform="translate(260,828) scale(0.952,1)" font-size="9.6" fill="#000" stroke="#000" stroke-width="0.22">24 Jun 00:00</text>
<text transform="translate(324,828) scale(0.952,1)" font-size="9.6" fill="#000" stroke="#000" stroke-width="0.22">24 Jun 16:00</text>
<text transform="translate(388,828) scale(0.952,1)" font-size="9.6" fill="#000" stroke="#000" stroke-width="0.22">27 Jun 08:00</text>
<text transform="translate(452,828) scale(0.952,1)" font-size="9.6" fill="#000" stroke="#000" stroke-width="0.22">28 Jun 00:00</text>
<text transform="translate(516,828) scale(0.952,1)" font-size="9.6" fill="#000" stroke="#000" stroke-width="0.22">28 Jun 16:00</text>
<text transform="translate(580,828) scale(0.952,1)" font-size="9.6" fill="#000" stroke="#000" stroke-width="0.22">29 Jun 08:00</text>
<text transform="translate(644,828) scale(0.952,1)" font-size="9.6" fill="#000" stroke="#000" stroke-width="0.22">30 Jun 00:00</text>
<text transform="translate(708,828) scale(0.952,1)" font-size="9.6" fill="#000" stroke="#000" stroke-width="0.22">30 Jun 16:00</text>
<text transform="translate(772,828) scale(0.952,1)" font-size="9.6" fill="#000" stroke="#000" stroke-width="0.22">1 Jul 08:00</text>
<text transform="translate(836,828) scale(0.952,1)" font-size="9.6" fill="#000" stroke="#000" stroke-width="0.22">4 Jul 00:00</text>
<text transform="translate(900,828) scale(0.952,1)" font-size="9.6" fill="#000" stroke="#000" stroke-width="0.22">4 Jul 16:00</text>
<text transform="translate(964,828) scale(0.952,1)" font-size="9.6" fill="#000" stroke="#000" stroke-width="0.22">5 Jul 08:00</text>
<text transform="translate(1028,828) scale(0.952,1)" font-size="9.6" fill="#000" stroke="#000" stroke-width="0.22">6 Jul 00:00</text>
<text transform="translate(1092,828) scale(0.952,1)" font-size="9.6" fill="#000" stroke="#000" stroke-width="0.22">6 Jul 16:00</text>
<text transform="translate(1156,828) scale(0.952,1)" font-size="9.6" fill="#000" stroke="#000" stroke-width="0.22">7 Jul 08:00</text>
<text transform="translate(1220,828) scale(0.952,1)" font-size="9.6" fill="#000" stroke="#000" stroke-width="0.22">8 Jul 00:00</text>
<text transform="translate(1284,828) scale(0.952,1)" font-size="9.6" fill="#000" stroke="#000" stroke-width="0.22">8 Jul 16:00</text>
<defs>
<linearGradient id="gplus" x1="0" y1="0" x2="0" y2="1"><stop offset="0" stop-color="#7dff8a"/><stop offset="0.5" stop-color="#10e030"/><stop offset="1" stop-color="#0aa818"/></linearGradient>
<linearGradient id="ggold" x1="0" y1="0" x2="1" y2="1"><stop offset="0" stop-color="#ffe45a"/><stop offset="0.5" stop-color="#f0c010"/><stop offset="1" stop-color="#c88a08"/></linearGradient>
<linearGradient id="gcloud" x1="0" y1="0" x2="0" y2="1"><stop offset="0" stop-color="#ffffff"/><stop offset="1" stop-color="#b8c4dc"/></linearGradient>
<linearGradient id="gblue" x1="0" y1="0" x2="1" y2="0"><stop offset="0" stop-color="#40b0ff"/><stop offset="1" stop-color="#1080e8"/></linearGradient>
<linearGradient id="ghat" x1="0" y1="0" x2="0" y2="1"><stop offset="0" stop-color="#8ccff0"/><stop offset="1" stop-color="#3a98c8"/></linearGradient>
<linearGradient id="gface" x1="0" y1="0" x2="1" y2="1"><stop offset="0" stop-color="#f8d020"/><stop offset="0.6" stop-color="#fff080"/><stop offset="1" stop-color="#e0a000"/></linearGradient>
<linearGradient id="gred" x1="0" y1="0" x2="0" y2="1"><stop offset="0" stop-color="#e8543a"/><stop offset="1" stop-color="#d81a05"/></linearGradient>
<linearGradient id="gclock" x1="0" y1="0" x2="1" y2="1"><stop offset="0" stop-color="#48a8ff"/><stop offset="1" stop-color="#0648a0"/></linearGradient>
<linearGradient id="ggreen" x1="0" y1="0" x2="0" y2="1"><stop offset="0" stop-color="#90ff90"/><stop offset="1" stop-color="#20d040"/></linearGradient>
<linearGradient id="gtg" x1="0" y1="0" x2="0" y2="1"><stop offset="0" stop-color="#48b018"/><stop offset="1" stop-color="#2a8a08"/></linearGradient>
<linearGradient id="gtb" x1="0" y1="0" x2="0" y2="1"><stop offset="0" stop-color="#2a60e0"/><stop offset="1" stop-color="#1038b0"/></linearGradient>
<radialGradient id="gsig" cx="0.5" cy="0.5" r="0.5"><stop offset="0" stop-color="#ffffff" stop-opacity="0"/><stop offset="1" stop-color="#30a030" stop-opacity="0.85"/></radialGradient>
<pattern id="chk" width="2" height="2" patternUnits="userSpaceOnUse"><rect width="2" height="2" fill="#ffffff"/><rect width="1" height="1" fill="#f0f0f0"/><rect x="1" y="1" width="1" height="1" fill="#f0f0f0"/></pattern>
</defs>
<g shape-rendering="crispEdges">
<rect x="3" y="5" width="1" height="21" fill="#a0a0a0"/>
<rect x="334" y="5" width="1" height="21" fill="#a0a0a0"/>
<rect x="424" y="5" width="1" height="21" fill="#a0a0a0"/>
<rect x="486" y="5" width="1" height="21" fill="#a0a0a0"/>
<rect x="674" y="5" width="1" height="21" fill="#a0a0a0"/>
<rect x="239" y="3" width="1" height="25" fill="#a0a0a0"/>
<rect x="240" y="3" width="1" height="25" fill="#fff"/>
<rect x="607" y="3" width="1" height="25" fill="#a0a0a0"/>
<rect x="608" y="3" width="1" height="25" fill="#fff"/>
<rect x="913" y="3" width="1" height="25" fill="#a0a0a0"/>
<rect x="914" y="3" width="1" height="25" fill="#fff"/>
<rect x="1174" y="3" width="1" height="25" fill="#a0a0a0"/>
<rect x="1175" y="3" width="1" height="25" fill="#fff"/>
<rect x="243" y="6" width="3" height="1" fill="#a0a0a0"/>
<rect x="243" y="8" width="3" height="1" fill="#a0a0a0"/>
<rect x="243" y="10" width="3" height="1" fill="#a0a0a0"/>
<rect x="243" y="12" width="3" height="1" fill="#a0a0a0"/>
<rect x="243" y="14" width="3" height="1" fill="#a0a0a0"/>
<rect x="243" y="16" width="3" height="1" fill="#a0a0a0"/>
<rect x="243" y="18" width="3" height="1" fill="#a0a0a0"/>
<rect x="243" y="20" width="3" height="1" fill="#a0a0a0"/>
<rect x="243" y="22" width="3" height="1" fill="#a0a0a0"/>
<rect x="243" y="24" width="3" height="1" fill="#a0a0a0"/>
<rect x="611" y="6" width="3" height="1" fill="#a0a0a0"/>
<rect x="611" y="8" width="3" height="1" fill="#a0a0a0"/>
<rect x="611" y="10" width="3" height="1" fill="#a0a0a0"/>
<rect x="611" y="12" width="3" height="1" fill="#a0a0a0"/>
<rect x="611" y="14" width="3" height="1" fill="#a0a0a0"/>
<rect x="611" y="16" width="3" height="1" fill="#a0a0a0"/>
<rect x="611" y="18" width="3" height="1" fill="#a0a0a0"/>
<rect x="611" y="20" width="3" height="1" fill="#a0a0a0"/>
<rect x="611" y="22" width="3" height="1" fill="#a0a0a0"/>
<rect x="611" y="24" width="3" height="1" fill="#a0a0a0"/>
<rect x="917" y="6" width="3" height="1" fill="#a0a0a0"/>
<rect x="917" y="8" width="3" height="1" fill="#a0a0a0"/>
<rect x="917" y="10" width="3" height="1" fill="#a0a0a0"/>
<rect x="917" y="12" width="3" height="1" fill="#a0a0a0"/>
<rect x="917" y="14" width="3" height="1" fill="#a0a0a0"/>
<rect x="917" y="16" width="3" height="1" fill="#a0a0a0"/>
<rect x="917" y="18" width="3" height="1" fill="#a0a0a0"/>
<rect x="917" y="20" width="3" height="1" fill="#a0a0a0"/>
<rect x="917" y="22" width="3" height="1" fill="#a0a0a0"/>
<rect x="917" y="24" width="3" height="1" fill="#a0a0a0"/>
<rect x="277" y="4" width="26" height="23" fill="#fff"/>
<rect x="277" y="4" width="25" height="1" fill="#a0a0a0"/>
<rect x="277" y="4" width="1" height="22" fill="#a0a0a0"/>
<rect x="278" y="5" width="24" height="21" fill="url(#chk)"/>
<rect x="429" y="4" width="26" height="23" fill="#fff"/>
<rect x="429" y="4" width="25" height="1" fill="#a0a0a0"/>
<rect x="429" y="4" width="1" height="22" fill="#a0a0a0"/>
<rect x="430" y="5" width="24" height="21" fill="url(#chk)"/>
<rect x="457" y="4" width="26" height="23" fill="#fff"/>
<rect x="457" y="4" width="25" height="1" fill="#a0a0a0"/>
<rect x="457" y="4" width="1" height="22" fill="#a0a0a0"/>
<rect x="458" y="5" width="24" height="21" fill="url(#chk)"/>
<rect x="617" y="4" width="26" height="23" fill="#fff"/>
<rect x="617" y="4" width="25" height="1" fill="#a0a0a0"/>
<rect x="617" y="4" width="1" height="22" fill="#a0a0a0"/>
<rect x="618" y="5" width="24" height="21" fill="url(#chk)"/>
<rect x="1063" y="4" width="26" height="23" fill="#fff"/>
<rect x="1063" y="4" width="25" height="1" fill="#a0a0a0"/>
<rect x="1063" y="4" width="1" height="22" fill="#a0a0a0"/>
<rect x="1064" y="5" width="24" height="21" fill="url(#chk)"/>
</g>
<path d="M14.5,8.5 h7 l3,3 v10 h-10 a1,1 0 0 1 -1,-1 v-11 a1,1 0 0 1 1,-1 z" fill="#fff" stroke="#707070" stroke-width="1.1"/>
<path d="M21.5,8.5 v3 h3" fill="#e8e8e8" stroke="#707070" stroke-width="1.1"/>
<g shape-rendering="crispEdges" fill="#909090"><rect x="15" y="10" width="3" height="1" fill="#707070"/><rect x="15" y="14" width="5" height="1"/><rect x="15" y="16" width="4" height="1"/><rect x="15" y="18" width="2" height="1"/></g>
<path d="M21.5,14.5 h3 v4 h4 v3 h-4 v4 h-3 v-4 h-4 v-3 h4 z" fill="url(#gplus)" stroke="#109818" stroke-width="1"/>
<text x="32" y="19.4" font-size="12" font-weight="500" fill="#000">新订单</text>
<path d="M85.6,9 L95.3,15.8 L95.9,17.7 L88.1,23.7 L80.1,18 L83.6,14.2 Q83.3,11 85.6,9 Z" fill="#d89c10" stroke="#a86a10" stroke-width="0.9" stroke-linejoin="round"/>
<path d="M85.2,10 L94.6,16.3 L87.9,21.4 L81.6,17.3 L84.5,14 Q84.2,11.4 85.2,10 Z" fill="url(#ggold)"/>
<path d="M81,18 L88,22.6" fill="none" stroke="#f8dc70" stroke-width="0.9"/>
<path d="M88.6,22.6 L95.2,17.6" fill="none" stroke="#f0e4b0" stroke-width="0.9"/>
<path d="M109.9,9.4 L116.2,8.2 L121.1,10.4 L113.7,11.2 Z" fill="#58b8ff"/>
<path d="M109.9,9.4 L113.7,11.2 L113.7,18.5 L109.9,18.5 Z" fill="#18a0ff"/>
<path d="M113.7,11.2 L121.1,10.4 L121.1,18.5 L113.7,18.5 Z" fill="#2890f0"/>
<path d="M109.9,9.4 L116.2,8.2 L121.1,10.4 L121.1,18.5 L109.9,18.5 Z" fill="none" stroke="#2080e0" stroke-width="0.7"/>
<path d="M110.2,9.7 L113.7,11.3 L120.8,10.5 M113.7,11.3 L113.7,17" fill="none" stroke="#e8f6ff" stroke-width="0.9"/>
<rect x="115.2" y="12.8" width="4.6" height="1" fill="#e8f6ff"/>
<path d="M111,23.5 C108.3,23.5 107.5,20.2 110.3,19.3 C110.5,17 113.4,16.7 114.3,18.1 C115.2,15.4 119.5,15.5 120.1,18.3 C122.6,17.5 124.7,19.6 123.7,21.7 C123.4,22.9 122.4,23.5 121,23.5 Z" fill="url(#gcloud)" stroke="#4a68a8" stroke-width="1"/>
<defs><linearGradient id="gsec" x1="0" y1="0" x2="0.3" y2="1"><stop offset="0" stop-color="#c8e8c8" stop-opacity="0.45"/><stop offset="1" stop-color="#30a030" stop-opacity="0.9"/></linearGradient></defs>
<path d="M144,16 L145.6,8.3 A7.9,7.9 0 0 1 144,23.9 Z" fill="url(#gsec)"/>
<path d="M143.36,23.37 A7.4,7.4 0 1 1 145.92,8.85" fill="none" stroke="#6a8ce0" stroke-width="1.0" stroke-opacity="0.75"/>
<path d="M143.17,20.73 A4.8,4.8 0 1 1 145.64,11.49" fill="none" stroke="#3060d0" stroke-width="1.3" stroke-opacity="0.9"/>
<path d="M146.53,9.05 A7.4,7.4 0 0 1 144.64,23.37" fill="none" stroke="#2a7a6a" stroke-width="1.0" stroke-opacity="0.7"/>
<path d="M146.03,11.65 A4.8,4.8 0 0 1 144.42,20.78" fill="none" stroke="#3a9a5a" stroke-width="1.0" stroke-opacity="0.6"/>
<circle cx="144" cy="15.7" r="1.9" fill="#2050d0"/>
<rect x="144" y="16" width="1.2" height="8" fill="#18a018"/>
<path d="M163.6,15.4 L179,14.6 L172.2,23.8 L170,23.2 Z" fill="url(#gface)" stroke="#d09810" stroke-width="0.8"/>
<path d="M163.2,12.6 C164.2,10 167,10.8 168,11.8 L175,11.6 C176.2,10.4 178.8,10 179.4,12.2 C179.2,14.6 175,15.9 171.2,15.9 C167.2,15.9 163.4,14.8 163.2,12.6 Z" fill="#4aa4d4" stroke="#2a80b0" stroke-width="0.8"/>
<path d="M167.3,12.2 C167.2,7 175.3,7 175.5,12 C173,13.6 169.6,13.6 167.3,12.2 Z" fill="url(#ghat)" stroke="#2a80b0" stroke-width="0.6"/>
<circle cx="175.4" cy="19.6" r="4.1" fill="url(#gred)" stroke="#c01800" stroke-width="0.5"/>
<rect x="174" y="18.2" width="2.8" height="2.8" fill="#fff"/>
<text x="184" y="19.4" font-size="12" font-weight="500" fill="#000">自动交易</text>
<g shape-rendering="crispEdges" fill="#505050">
<rect x="257" y="10" width="1" height="14"/>
<rect x="255" y="21" width="14" height="1"/>
<rect x="256" y="11" width="3" height="1"/>
<rect x="267" y="20" width="1" height="3"/>
</g>
<g shape-rendering="crispEdges" fill="#008000"><rect x="263" y="11" width="1" height="9"/><rect x="264" y="12" width="2" height="1"/><rect x="261" y="18" width="2" height="1"/></g>
<g shape-rendering="crispEdges" fill="#505050">
<rect x="285" y="10" width="1" height="14"/>
<rect x="283" y="21" width="14" height="1"/>
<rect x="284" y="11" width="3" height="1"/>
<rect x="295" y="20" width="1" height="3"/>
</g>
<g shape-rendering="crispEdges"><rect x="291" y="8" width="1" height="12" fill="#008000"/><rect x="289" y="10" width="5" height="8" fill="#008000"/><rect x="290" y="11" width="3" height="6" fill="url(#ggreen)"/></g>
<g shape-rendering="crispEdges" fill="#505050">
<rect x="313" y="10" width="1" height="14"/>
<rect x="311" y="21" width="14" height="1"/>
<rect x="312" y="11" width="3" height="1"/>
<rect x="323" y="20" width="1" height="3"/>
</g>
<path d="M312.3,18.6 C314.5,17.5 315.5,13.4 318,13.4 C320,13.4 321,16.6 323.6,17.2" fill="none" stroke="#2e9e2e" stroke-width="1.2"/>
<path d="M352.6,18.4 L357.9,22.8" stroke="#a07810" stroke-width="3.6" stroke-linecap="butt"/>
<path d="M352.8,18.5 L357.5,22.4" stroke="#f0d030" stroke-width="2" stroke-linecap="butt"/>
<circle cx="349" cy="14" r="5.4" fill="#d8f2ff" stroke="#2a70c8" stroke-width="1.3"/>
<rect x="346" y="13" width="6" height="2" fill="#4a8eb8"/>
<rect x="348" y="11" width="2" height="6" fill="#4a8eb8"/>
<path d="M380.6,18.4 L385.9,22.8" stroke="#a07810" stroke-width="3.6" stroke-linecap="butt"/>
<path d="M380.8,18.5 L385.5,22.4" stroke="#f0d030" stroke-width="2" stroke-linecap="butt"/>
<circle cx="377" cy="14" r="5.4" fill="#d8f2ff" stroke="#2a70c8" stroke-width="1.3"/>
<rect x="374" y="13" width="6" height="2" fill="#4a8eb8"/>
<rect x="399" y="8" width="8" height="8" rx="0.8" fill="url(#gtg)"/>
<rect x="400" y="11" width="6" height="4" fill="#fff"/>
<rect x="401" y="12" width="4" height="1" fill="#a8dc88"/>
<rect x="401" y="14" width="4" height="1" fill="#48a820"/>
<rect x="400" y="9" width="1" height="1" fill="#e0f0e0"/>
<rect x="407" y="8" width="8" height="8" rx="0.8" fill="url(#gtb)"/>
<rect x="408" y="11" width="6" height="4" fill="#fff"/>
<rect x="409" y="12" width="4" height="1" fill="#a0b4f0"/>
<rect x="409" y="14" width="4" height="1" fill="#2858d8"/>
<rect x="408" y="9" width="1" height="1" fill="#e0f0e0"/>
<rect x="399" y="16" width="8" height="8" rx="0.8" fill="url(#gtb)"/>
<rect x="400" y="19" width="6" height="4" fill="#fff"/>
<rect x="401" y="20" width="4" height="1" fill="#a0b4f0"/>
<rect x="401" y="22" width="4" height="1" fill="#2858d8"/>
<rect x="400" y="17" width="1" height="1" fill="#e0f0e0"/>
<rect x="407" y="16" width="8" height="8" rx="0.8" fill="url(#gtg)"/>
<rect x="408" y="19" width="6" height="4" fill="#fff"/>
<rect x="409" y="20" width="4" height="1" fill="#a8dc88"/>
<rect x="409" y="22" width="4" height="1" fill="#48a820"/>
<rect x="408" y="17" width="1" height="1" fill="#e0f0e0"/>
<g shape-rendering="crispEdges" fill="#505050">
<rect x="437" y="10" width="1" height="14"/>
<rect x="435" y="21" width="14" height="1"/>
<rect x="436" y="11" width="3" height="1"/>
<rect x="447" y="20" width="1" height="3"/>
</g>
<path d="M442.5,12.5 L446.3,15.7 L442.5,19 Z" fill="#70f090" stroke="#109010" stroke-width="1" stroke-linejoin="round"/>
<g shape-rendering="crispEdges" fill="#505050">
<rect x="465" y="10" width="1" height="14"/>
<rect x="463" y="21" width="14" height="1"/>
<rect x="464" y="11" width="3" height="1"/>
<rect x="475" y="20" width="1" height="3"/>
</g>
<rect x="471" y="10" width="1" height="10" fill="#1870a8" shape-rendering="crispEdges"/>
<path d="M472.3,15.5 L475.2,13.2 L474.8,15 L477.4,15 L477.4,16 L474.8,16 L475.2,17.8 Z" fill="#ff6a00" stroke="#902800" stroke-width="0.6"/>
<path d="M497.5,8.5 h7 l3,3 v10 h-10 a1,1 0 0 1 -1,-1 v-11 a1,1 0 0 1 1,-1 z" fill="#fff" stroke="#707070" stroke-width="1.1"/>
<path d="M504.5,8.5 v3 h3" fill="#e8e8e8" stroke="#707070" stroke-width="1.1"/>
<text x="498.3" y="19" font-size="10" font-style="italic" font-family="'Liberation Serif',serif" fill="#403820">f</text>
<path d="M504.5,14.5 h3 v4 h4 v3 h-4 v4 h-3 v-4 h-4 v-3 h4 z" fill="url(#gplus)" stroke="#109818" stroke-width="1"/>
<g shape-rendering="crispEdges" fill="#000"><rect x="518" y="15" width="5" height="1"/><rect x="519" y="16" width="3" height="1"/><rect x="520" y="17" width="1" height="1"/></g>
<circle cx="542" cy="16" r="6.7" fill="#fff" stroke="url(#gclock)" stroke-width="2.7"/>
<circle cx="542" cy="16" r="4.4" fill="none" stroke="#a8a8a8" stroke-width="0.8" stroke-dasharray="0.7 1.6"/>
<path d="M541.5,12.4 V16.2 H544.4" fill="none" stroke="#202020" stroke-width="1.1"/>
<g shape-rendering="crispEdges" fill="#000"><rect x="557" y="15" width="5" height="1"/><rect x="558" y="16" width="3" height="1"/><rect x="559" y="17" width="1" height="1"/></g>
<rect x="573" y="9" width="16" height="14" rx="0.8" fill="#2e72b8"/>
<rect x="574" y="10" width="6" height="1" fill="#a8d0f8"/>
<rect x="574" y="12" width="14" height="5" fill="#fff"/><rect x="574" y="18" width="14" height="4" fill="#fff"/>
<path d="M575,15.5 h2 l1.5,-1 h1 l1.5,-1 h1 l1.5,1 h1.5 l1.5,-1 h1" fill="none" stroke="#8b1a00" stroke-width="1"/>
<path d="M576,20.5 h1.2 l1.5,-1 h1 l1.2,1 h1.2 l2,-2.2 h0.8 l2.2,2.4" fill="none" stroke="#0a8a1a" stroke-width="1"/>
<g shape-rendering="crispEdges" fill="#000"><rect x="596" y="15" width="5" height="1"/><rect x="597" y="16" width="3" height="1"/><rect x="598" y="17" width="1" height="1"/></g>
<path d="M625.2,8.8 L625.2,20.2 L627.2,18.3 L630,23.3 L631.8,22.4 L629.3,17.6 L633.2,16.5 Z" fill="#505050"/>
<g shape-rendering="crispEdges" fill="#404040"><rect x="650" y="16" width="6" height="1"/><rect x="659" y="16" width="6" height="1"/><rect x="657" y="9" width="1" height="6"/><rect x="657" y="18" width="1" height="6"/><rect x="657" y="16" width="1" height="1" fill="#807860"/></g>
<g shape-rendering="crispEdges" fill="#505050"><rect x="691" y="10" width="1" height="13"/><rect x="714" y="16" width="12" height="1"/></g>
<path d="M741.8,23 L754.2,10.6" stroke="#585858" stroke-width="0.9"/>
<path d="M767.8,17.6 L775.8,9.9 M773,22.8 L782.3,14.2" stroke="#404040" stroke-width="1.1" stroke-dasharray="1.3 0.7"/>
<path d="M769.8,22.6 L781.2,10.2" stroke="#404040" stroke-width="1"/>
<path d="M770.3,15.8 L770.9,22.6 M773.4,12.6 L774.1,19.6 M776.5,10.2 L777.2,16.6 M779.6,8 L780,14.2" stroke="#404040" stroke-width="1.4"/>
<text x="778.8" y="25.2" font-size="7.2" font-weight="bold" fill="#404040">E</text>
<g shape-rendering="crispEdges" fill="#404040">
<rect x="797" y="9" width="1" height="1"/>
<rect x="799" y="9" width="1" height="1"/>
<rect x="801" y="9" width="1" height="1"/>
<rect x="803" y="9" width="1" height="1"/>
<rect x="805" y="9" width="1" height="1"/>
<rect x="807" y="9" width="1" height="1"/>
<rect x="809" y="9" width="1" height="1"/>
<rect x="797" y="12" width="1" height="1"/>
<rect x="799" y="12" width="1" height="1"/>
<rect x="801" y="12" width="1" height="1"/>
<rect x="803" y="12" width="1" height="1"/>
<rect x="805" y="12" width="1" height="1"/>
<rect x="807" y="12" width="1" height="1"/>
<rect x="809" y="12" width="1" height="1"/>
<rect x="797" y="16" width="1" height="1"/>
<rect x="799" y="16" width="1" height="1"/>
<rect x="801" y="16" width="1" height="1"/>
<rect x="803" y="16" width="1" height="1"/>
<rect x="805" y="16" width="1" height="1"/>
<rect x="807" y="16" width="1" height="1"/>
<rect x="809" y="16" width="1" height="1"/>
<rect x="797" y="20" width="1" height="1"/>
<rect x="799" y="20" width="1" height="1"/>
<rect x="801" y="20" width="1" height="1"/>
<rect x="803" y="20" width="1" height="1"/>
<rect x="805" y="20" width="1" height="1"/>
</g>
<text x="806.8" y="25.2" font-size="7.2" font-weight="bold" fill="#404040">F</text>
<text x="827.3" y="21.2" font-size="12.5" font-weight="bold" fill="#585858">A</text>
<g shape-rendering="crispEdges" fill="#505050">
<rect x="857" y="10" width="1" height="1"/>
<rect x="859" y="10" width="1" height="1"/>
<rect x="861" y="10" width="1" height="1"/>
<rect x="863" y="10" width="1" height="1"/>
<rect x="865" y="10" width="1" height="1"/>
<rect x="854" y="22" width="1" height="1"/>
<rect x="856" y="22" width="1" height="1"/>
<rect x="858" y="22" width="1" height="1"/>
<rect x="860" y="22" width="1" height="1"/>
<rect x="862" y="22" width="1" height="1"/>
<rect x="864" y="22" width="1" height="1"/>
<rect x="854" y="12" width="1" height="1"/><rect x="865" y="12" width="1" height="1"/>
<rect x="854" y="14" width="1" height="1"/><rect x="865" y="14" width="1" height="1"/>
<rect x="854" y="16" width="1" height="1"/><rect x="865" y="16" width="1" height="1"/>
<rect x="854" y="18" width="1" height="1"/><rect x="865" y="18" width="1" height="1"/>
<rect x="854" y="20" width="1" height="1"/><rect x="865" y="20" width="1" height="1"/>
<rect x="853" y="9" width="2" height="1"/><rect x="854" y="10" width="2" height="1"/>
<rect x="856" y="13" width="8" height="1"/><rect x="859" y="13" width="2" height="8"/>
</g>
<path d="M884.5,10 L888.2,13.8 L886,13.8 L886,14.8 L883,14.8 L883,13.8 L880.8,13.8 Z" fill="#505050"/>
<path d="M891.6,22.9 L895.2,19.2 L893,19.2 L893,18.2 L890,18.2 L890,19.2 L888,19.2 Z" fill="#505050"/>
<path d="M883.2,17.5 L885.6,19.6 L890,14.3" fill="none" stroke="#505050" stroke-width="1.2"/>
<g shape-rendering="crispEdges" fill="#000"><rect x="902" y="15" width="5" height="1"/><rect x="903" y="16" width="3" height="1"/><rect x="904" y="17" width="1" height="1"/></g>
<text transform="translate(928.6,20) scale(0.9667,1)" font-size="9.6" fill="#303030" stroke="#303030" stroke-width="0.1">M1</text>
<text transform="translate(956.8,20) scale(0.9667,1)" font-size="9.6" fill="#303030" stroke="#303030" stroke-width="0.1">M5</text>
<text transform="translate(982.8,20) scale(0.9667,1)" font-size="9.6" fill="#303030" stroke="#303030" stroke-width="0.1">M15</text>
<text transform="translate(1010.7,20) scale(0.9667,1)" font-size="9.6" fill="#303030" stroke="#303030" stroke-width="0.1">M30</text>
<text transform="translate(1041.8,20) scale(0.9667,1)" font-size="9.6" fill="#303030" stroke="#303030" stroke-width="0.1">H1</text>
<text transform="translate(1068.6,20) scale(0.9667,1)" font-size="9.6" fill="#303030" stroke="#303030" stroke-width="0.1">H4</text>
<text transform="translate(1097.6,20) scale(0.9667,1)" font-size="9.6" fill="#303030" stroke="#303030" stroke-width="0.1">D1</text>
<text transform="translate(1125.3,20) scale(0.9667,1)" font-size="9.6" fill="#303030" stroke="#303030" stroke-width="0.1">W1</text>
<text transform="translate(1151.9,20) scale(0.9667,1)" font-size="9.6" fill="#303030" stroke="#303030" stroke-width="0.1">MN</text>
<path d="M1641.6,16.8 L1636.8,21" stroke="#2050c8" stroke-width="2.4" stroke-linecap="round"/>
<circle cx="1644.6" cy="13.4" r="3.9" fill="#f4f4f8" stroke="#2a5ad8" stroke-width="1.3"/>
<path d="M1662,18 a5.5,4.2 0 0 1 11,0 a5.5,4.2 0 0 1 -5.5,4.2 h-1.5 l-2,2.4 l0.2,-2.8 a5,4 0 0 1 -2.2,-3.8 Z" fill="#dcdce4" stroke="#b0b0b8" stroke-width="0.8"/>
<circle cx="1675.6" cy="13.4" r="8.4" fill="url(#gred)"/>
<text x="1675.2" y="17.8" font-size="12.5" fill="#fff" text-anchor="middle" stroke="#fff" stroke-width="0.2">1</text>
</svg>
</body></html>
